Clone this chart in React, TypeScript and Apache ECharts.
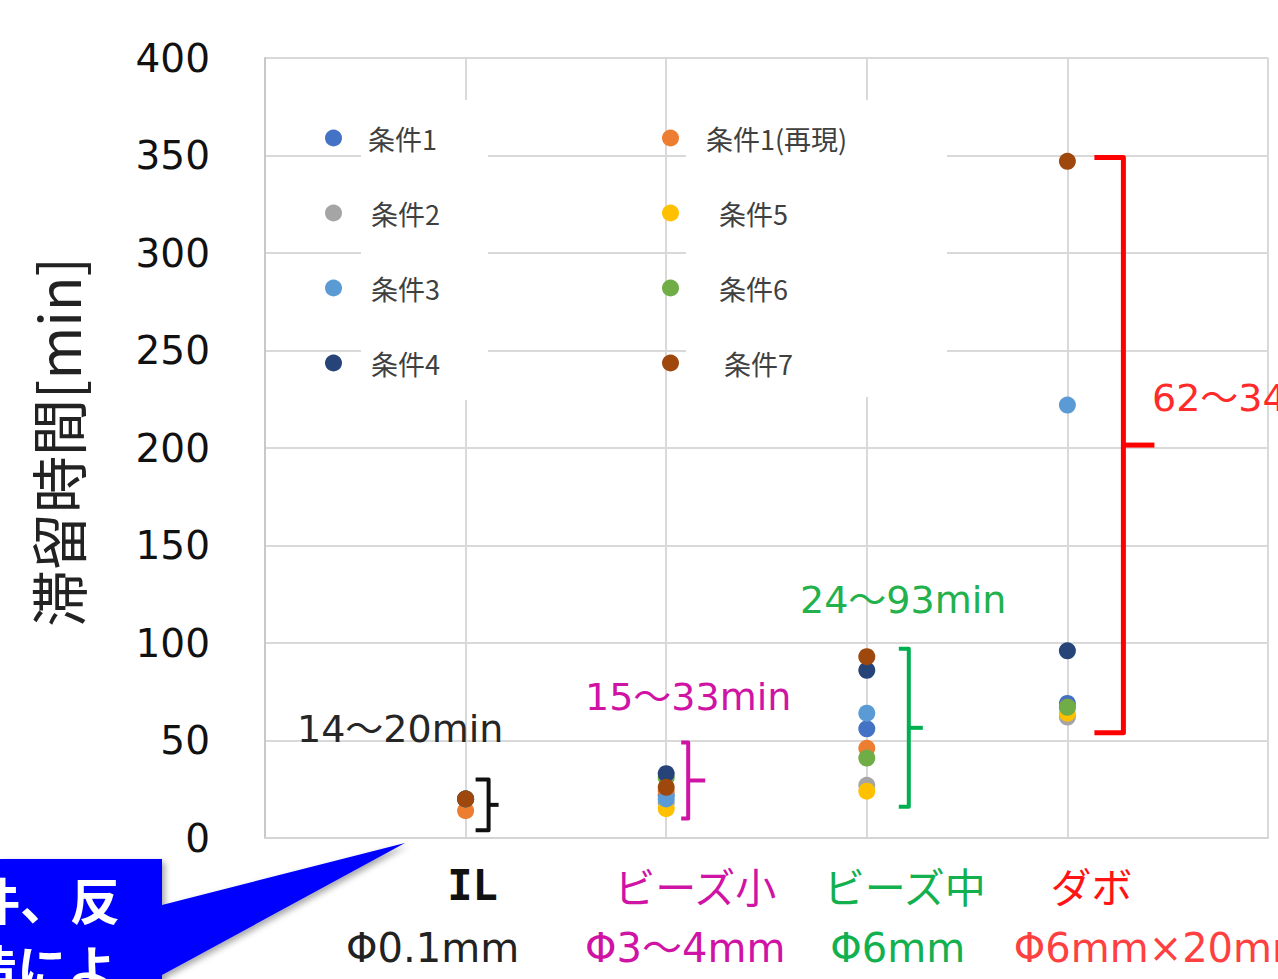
import React, { useEffect, useRef } from "react";
import * as echarts from "echarts";

// Measurement sites (x positions 1..4) and their sizes
const categories = ["IL", "ビーズ小", "ビーズ中", "ダボ"];
const sizeLabels = ["Φ0.1mm", "Φ3～4mm", "Φ6mm", "Φ6mm×20mm"];

// Residence time [min] per condition, one value per site
const seriesNames = ["条件1", "条件1(再現)", "条件2", "条件5", "条件3", "条件6", "条件4", "条件7"];
const cond1 = [20, 22, 56, 69];
const cond1Re = [14, 24, 46, 67];
const cond2 = [20, 18, 27, 62];
const cond5 = [20, 15, 24, 64];
const cond3 = [20, 20, 64, 222];
const cond6 = [20, 31, 41, 67];
const cond4 = [20, 33, 86, 96];
const cond7 = [20, 26, 93, 347];
const seriesValues = [cond1, cond1Re, cond2, cond5, cond3, cond6, cond4, cond7];
const seriesColors = ["#4472C4", "#ED7D31", "#A5A5A5", "#FFC000", "#5B9BD5", "#70AD47", "#264478", "#9E480E"];

// Span of each range bracket, in minutes [low, high]
const bracketSpans = [
  [4, 30],
  [10, 49],
  [16, 97],
  [54, 349],
];

// Callout text lines (the box runs off the left edge)
const calloutLines = ["条件、反", "構造によ"];

const MAGENTA = "#CF14A5";
const GREEN = "#12B04E";
const RED = "#FF0000";

const bracketStyles = [
  { color: "#111111", dx: 23, arm: 13, tick: 10, width: 4 },
  { color: MAGENTA, dx: 22, arm: 7, tick: 17, width: 4 },
  { color: "#00B050", dx: 42, arm: 10, tick: 14, width: 4 },
  { color: RED, dx: 56, arm: 29, tick: 31, width: 5 },
];

const rangeTextStyles = [
  { x: 297, y: 729, color: "#262626" },
  { x: 585, y: 697, color: MAGENTA },
  { x: 800, y: 600, color: "#22B14C" },
  { x: 1152, y: 398, color: "#FF2A2A" },
];

const nameStyles = [
  { dx: 7, color: "#111111", font: "'DejaVu Sans Mono'", weight: "bold", size: 42 },
  { dx: 29, color: MAGENTA, font: "'Noto Sans CJK JP'", weight: "normal", size: 41 },
  { dx: 38, color: GREEN, font: "'Noto Sans CJK JP'", weight: "normal", size: 41 },
  { dx: 24, color: "#FF1414", font: "'Noto Sans CJK JP'", weight: "normal", size: 41 },
];
const sizeStyles = [
  { dx: -33, color: "#222222" },
  { dx: 19, color: MAGENTA },
  { dx: 31, color: GREEN },
  { dx: 95, color: "#FF4040" },
];

const LATIN = "'DejaVu Sans', 'Noto Sans CJK JP', sans-serif";
const CJK = "'Noto Sans CJK JP', sans-serif";

function rangeText(i: number): string {
  const vals = seriesValues.map((s) => s[i]);
  return `${Math.min(...vals)}～${Math.max(...vals)}min`;
}

export default function App() {
  const ref = useRef<HTMLDivElement>(null);

  useEffect(() => {
    const el = ref.current;
    if (!el) return;
    const chart = echarts.init(el, null, { renderer: "svg" });

    const legendText = { fontSize: 27, color: "#404040", fontFamily: CJK, lineHeight: 30 };
    const legendCommon = {
      orient: "vertical" as const,
      top: 118,
      itemWidth: 17,
      itemHeight: 17,
      itemGap: 45,
      icon: "circle",
      selectedMode: false,
      textStyle: legendText,
    };
    const pad = (left: number) => ({ padding: [0, 0, 0, left] });

    chart.setOption({
      animation: false,
      backgroundColor: "#ffffff",
      grid: { left: 265, right: 10, top: 58, bottom: 141, containLabel: false },
      xAxis: {
        type: "value",
        min: 0,
        max: 5,
        interval: 1,
        axisLabel: { show: false },
        axisTick: { show: false },
        axisLine: { show: true, lineStyle: { color: "#D4D4D4", width: 2 } },
        splitLine: { show: true, lineStyle: { color: "#D9D9D9", width: 2 } },
      },
      yAxis: {
        type: "value",
        min: 0,
        max: 400,
        interval: 50,
        name: "滞留時間[min]",
        nameLocation: "middle",
        nameRotate: 90,
        nameGap: 209,
        nameTextStyle: {
          fontSize: 57,
          fontFamily: CJK,
          color: "#222222",
          verticalAlign: "middle",
          align: "center",
          padding: [0, 0, 0, 12],
        },
        axisLabel: { fontSize: 39, fontFamily: LATIN, color: "#111111", margin: 55 },
        axisTick: { show: false },
        axisLine: { show: true, lineStyle: { color: "#C8C8C8", width: 2 } },
        splitLine: { show: true, lineStyle: { color: "#D9D9D9", width: 2 } },
      },
      legend: [
        {
          ...legendCommon,
          left: 320,
          data: [
            { name: "条件1", textStyle: pad(21) },
            { name: "条件2", textStyle: pad(24) },
            { name: "条件3", textStyle: pad(24) },
            { name: "条件4", textStyle: pad(24) },
          ],
        },
        {
          ...legendCommon,
          left: 657,
          data: [
            { name: "条件1(再現)", textStyle: pad(22) },
            { name: "条件5", textStyle: pad(35) },
            { name: "条件6", textStyle: pad(35) },
            { name: "条件7", textStyle: pad(40) },
          ],
        },
      ],
      series: [
        ...seriesNames.map((name, k) => ({
          name,
          type: "scatter",
          symbol: "circle",
          symbolSize: 17,
          z: 2,
          itemStyle: { color: seriesColors[k], opacity: 1 },
          emphasis: { disabled: true },
          data: seriesValues[k].map((v, i) => [i + 1, v]),
        })),
        {
          name: "range",
          type: "custom",
          silent: true,
          z: 3,
          clip: false,
          data: bracketSpans.map((s, i) => [i + 1, s[0], s[1]]),
          renderItem: (params: any, api: any) => {
            const i = params.dataIndex;
            const st = bracketStyles[i];
            const x = api.value(0);
            const top = api.coord([x, api.value(2)]);
            const bot = api.coord([x, api.value(1)]);
            const vx = top[0] + st.dx;
            const midY = (top[1] + bot[1]) / 2;
            return {
              type: "group",
              children: [
                {
                  type: "polyline",
                  shape: {
                    points: [
                      [vx - st.arm, top[1]],
                      [vx, top[1]],
                      [vx, bot[1]],
                      [vx - st.arm, bot[1]],
                    ],
                  },
                  style: { stroke: st.color, lineWidth: st.width, fill: null, lineJoin: "round" },
                },
                {
                  type: "line",
                  shape: { x1: vx, y1: midY, x2: vx + st.tick, y2: midY },
                  style: { stroke: st.color, lineWidth: st.width },
                },
              ],
            };
          },
        },
      ],
    });

    const graphics: any[] = [];

    // white panels behind the legend labels
    graphics.push(
      { type: "rect", z: 1, shape: { x: 361, y: 100, width: 127, height: 300 }, style: { fill: "#ffffff" } },
      { type: "rect", z: 1, shape: { x: 686, y: 100, width: 261, height: 297 }, style: { fill: "#ffffff" } }
    );

    // range annotations
    categories.forEach((_, i) => {
      const s = rangeTextStyles[i];
      graphics.push({
        type: "text",
        z: 5,
        x: s.x,
        y: s.y,
        style: {
          text: rangeText(i),
          fill: s.color,
          fontSize: 38,
          fontFamily: LATIN,
          align: "left",
          verticalAlign: "middle",
        },
      });
    });

    // site names and sizes under the axis
    categories.forEach((name, i) => {
      const px = chart.convertToPixel({ xAxisIndex: 0 }, i + 1) as number;
      const ns = nameStyles[i];
      const ss = sizeStyles[i];
      graphics.push({
        type: "text",
        z: 5,
        x: px + ns.dx,
        y: 885,
        style: {
          text: name,
          fill: ns.color,
          fontSize: ns.size,
          fontFamily: ns.font,
          fontWeight: ns.weight,
          align: "center",
          verticalAlign: "middle",
        },
      });
      graphics.push({
        type: "text",
        z: 5,
        x: px + ss.dx,
        y: 948,
        style: {
          text: sizeLabels[i],
          fill: ss.color,
          fontSize: 40,
          fontFamily: LATIN,
          align: "center",
          verticalAlign: "middle",
        },
      });
    });

    // blue callout in the lower-left corner
    graphics.push({
      type: "polygon",
      z: 10,
      shape: {
        points: [
          [0, 859],
          [162, 859],
          [162, 905],
          [405, 843],
          [162, 975],
          [162, 990],
          [0, 990],
        ],
      },
      style: {
        fill: "#0000FF",
        shadowColor: "rgba(0,0,0,0.35)",
        shadowBlur: 6,
        shadowOffsetX: 3,
        shadowOffsetY: 3,
      },
    });
    calloutLines.forEach((line, i) => {
      graphics.push({
        type: "text",
        z: 11,
        x: 120 - i * 3,
        y: 898 + i * 68,
        style: {
          text: line,
          fill: "#ffffff",
          fontSize: 50,
          fontWeight: "bold",
          fontFamily: CJK,
          align: "right",
          verticalAlign: "middle",
        },
      });
    });

    chart.setOption({ graphic: graphics });

    return () => {
      chart.dispose();
    };
  }, []);

  return (
    <div
      ref={ref}
      style={{ position: "fixed", left: 0, top: 0, width: 1278, height: 979, background: "#ffffff" }}
    />
  );
}
